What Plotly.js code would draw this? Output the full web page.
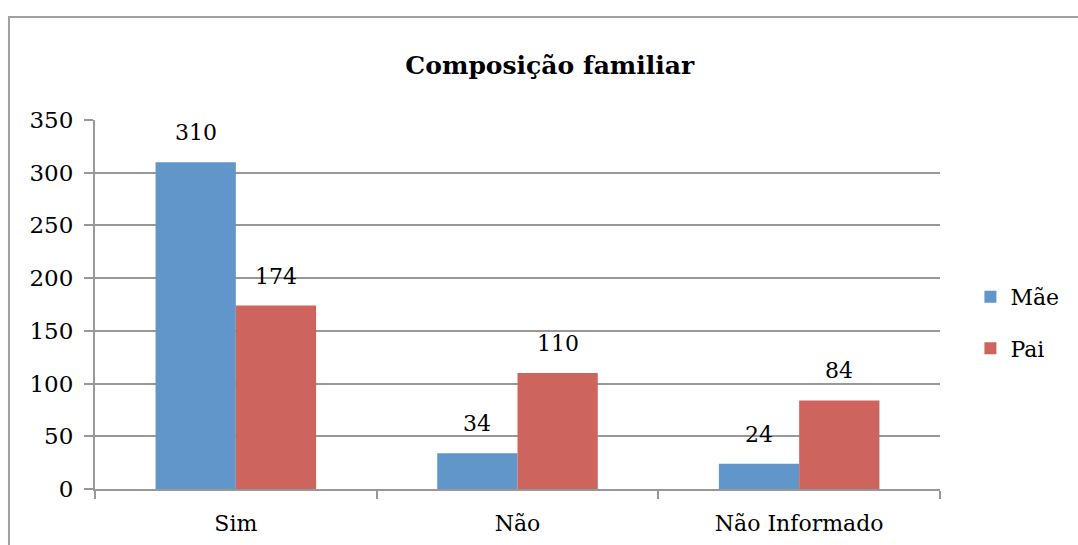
<!DOCTYPE html>
<html>
<head>
<meta charset="utf-8">
<script src="https://cdn.plot.ly/plotly-3.0.1.min.js"></script>
<style>html,body{margin:0;padding:0;background:#fff;}#chart{width:1078px;height:545px;}</style>
</head>
<body>
<div id="chart"></div>
<script>
const categories = ["Sim", "Não", "Não Informado"];
const maeValues = [310, 34, 24];
const paiValues = [174, 110, 84];
const seriesNames = ["Mãe", "Pai"];
const yTicks = [0, 50, 100, 150, 200, 250, 300, 350];
const chartTitle = "Composição familiar";

const FONT = "DejaVu Serif";
const GRID = "#989898";
const W = 1078, H = 545;
const M = {l: 95, r: 138, t: 120, b: 56, pad: 0, autoexpand: false};
const BARGAP = 0.43;

const traces = [
  {type: "bar", name: seriesNames[0], x: categories, y: maeValues, legendgroup: "a",
   marker: {color: "#6096C9"}},
  {type: "bar", name: seriesNames[1], x: categories, y: paiValues, legendgroup: "b",
   marker: {color: "#CD645E"}}
];

// value labels placed at the data points through the axes
const plotW = W - M.l - M.r;
const halfBar = plotW / categories.length * (1 - BARGAP) / 4;
const annotations = [];
[maeValues, paiValues].forEach((vals, si) => {
  vals.forEach((v, i) => {
    annotations.push({x: categories[i], y: v, xref: "x", yref: "y", text: String(v),
      showarrow: false, xanchor: "center", yanchor: "bottom",
      xshift: si === 0 ? -halfBar : halfBar, yshift: 15,
      font: {family: FONT, size: 22, color: "#000"}});
  });
});

const layout = {
  width: W, height: H,
  margin: M,
  paper_bgcolor: "#fff", plot_bgcolor: "#fff",
  font: {family: FONT, size: 22, color: "#000"},
  title: {text: "<b>" + chartTitle + "</b>", font: {family: FONT, size: 25, color: "#000"},
          x: 0.51, xanchor: "center", y: 0.88, yanchor: "middle"},
  barmode: "group", bargap: BARGAP, bargroupgap: 0,
  showlegend: true,
  legend: {x: 1.036, xanchor: "left", y: 0.45, yanchor: "middle",
           font: {family: FONT, size: 22, color: "#000"},
           traceorder: "grouped", tracegroupgap: 20, bgcolor: "rgba(0,0,0,0)"},
  xaxis: {type: "category", showgrid: false, showline: true, linecolor: GRID, linewidth: 2,
          ticks: "outside", tickson: "boundaries", ticklen: 8, tickwidth: 2, tickcolor: GRID,
          tickfont: {family: FONT, size: 22, color: "#000"}, ticklabelstandoff: 14,
          zeroline: false, fixedrange: true},
  yaxis: {range: [0, 350], tickvals: yTicks, ticktext: yTicks.map(String),
          showgrid: true, gridcolor: GRID, gridwidth: 2, showline: true, linecolor: GRID, linewidth: 2,
          ticks: "outside", ticklen: 9, tickwidth: 2, tickcolor: GRID,
          tickfont: {family: FONT, size: 23, color: "#000"}, ticklabelstandoff: 6,
          zeroline: false, fixedrange: true},
  annotations: annotations,
  shapes: [{type: "rect", xref: "paper", yref: "paper", x0: -0.1018, x1: 1.2, y0: -0.3, y1: 1.279,
            line: {color: "#A0A0A0", width: 2}, fillcolor: "rgba(0,0,0,0)", layer: "below"}]
};

Plotly.newPlot("chart", traces, layout, {staticPlot: true, displayModeBar: false});
</script>
</body>
</html>
